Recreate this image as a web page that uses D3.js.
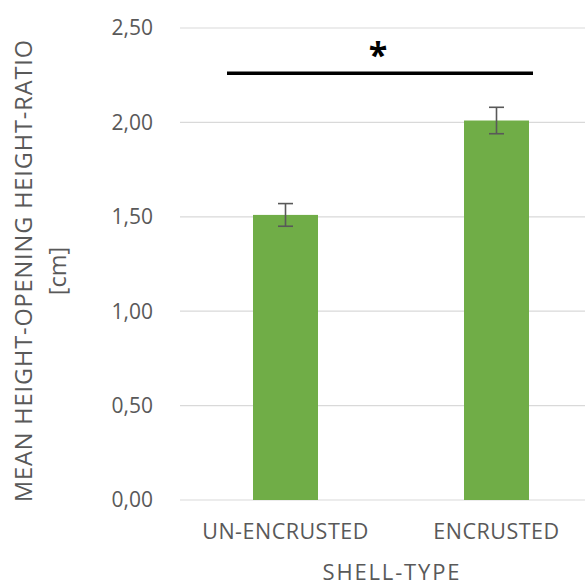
<!DOCTYPE html>
<html>
<head>
<meta charset="utf-8">
<script src="https://cdn.jsdelivr.net/npm/d3@7/dist/d3.min.js"></script>
<style>
  html, body { margin: 0; padding: 0; background: #fff; }
  svg { display: block; font-family: "Open Sans", sans-serif; }
</style>
</head>
<body>
<svg id="chart" width="585" height="587"></svg>
<script>
// Shell types and their mean height / opening-height ratio
const categories = ["UN-ENCRUSTED", "ENCRUSTED"];
const means = [1.51, 2.01];
const errors = [0.06, 0.07];
const yTicks = [0, 0.5, 1.0, 1.5, 2.0, 2.5];
const yTickLabels = ["0,00", "0,50", "1,00", "1,50", "2,00", "2,50"];
const significanceLevel = [2.26];
const significanceMark = ["*"];

const svg = d3.select("#chart");
const textColor = "#595959";
const gridColor = "#d9d9d9";
const barColor = "#70ad47";

const plot = { left: 180, right: 602, top: 28, bottom: 500 };

const y = d3.scaleLinear().domain([0, 2.5]).range([plot.bottom, plot.top]);
const x = d3.scaleBand().domain(categories).range([plot.left, plot.right]).padding(0);
const barW = x.bandwidth() * 0.308;
const cx = d => x(d) + x.bandwidth() / 2;

// horizontal gridlines
svg.append("g").selectAll("line").data(yTicks).join("line")
  .attr("x1", plot.left).attr("x2", plot.right)
  .attr("y1", d => y(d)).attr("y2", d => y(d))
  .attr("stroke", gridColor).attr("stroke-width", 1.2);

// y tick labels
const yAxis = d3.axisLeft(y).tickValues(yTicks)
  .tickFormat((d, i) => yTickLabels[i]).tickSize(0).tickPadding(0);
const gy = svg.append("g").attr("transform", "translate(153,0)").call(yAxis);
gy.select(".domain").remove();
gy.selectAll("text")
  .attr("fill", textColor).attr("font-size", 21).attr("font-family", "Open Sans, sans-serif")
  .attr("dy", "0.33em");

// bars
svg.append("g").selectAll("rect").data(categories).join("rect")
  .attr("x", d => cx(d) - barW / 2)
  .attr("width", barW)
  .attr("y", (d, i) => y(means[i]))
  .attr("height", (d, i) => y(0) - y(means[i]))
  .attr("fill", barColor);

// error bars
const eb = svg.append("g").attr("stroke", textColor).attr("stroke-width", 1.6);
categories.forEach((c, i) => {
  const hi = y(means[i] + errors[i]), lo = y(means[i] - errors[i]);
  eb.append("line").attr("x1", cx(c)).attr("x2", cx(c)).attr("y1", hi).attr("y2", lo);
  eb.append("line").attr("x1", cx(c) - 7.5).attr("x2", cx(c) + 7.5).attr("y1", hi).attr("y2", hi);
  eb.append("line").attr("x1", cx(c) - 7.5).attr("x2", cx(c) + 7.5).attr("y1", lo).attr("y2", lo);
});

// x category labels
const xAxis = d3.axisBottom(x).tickSize(0).tickPadding(0);
const gx = svg.append("g").attr("transform", "translate(0,539)").call(xAxis);
gx.select(".domain").remove();
gx.selectAll("text")
  .attr("fill", textColor).attr("font-size", 21.5).attr("font-family", "Open Sans, sans-serif")
  .attr("letter-spacing", 0.5)
  .attr("dy", 0).attr("y", 0);

// x axis title
svg.append("text")
  .attr("x", 391).attr("y", 580)
  .attr("text-anchor", "middle")
  .attr("fill", textColor).attr("font-size", 22)
  .attr("textLength", 137).attr("lengthAdjust", "spacing")
  .text("SHELL-TYPE");

// y axis title (two lines)
const yTitle = svg.append("text")
  .attr("transform", "translate(0,271) rotate(-90)")
  .attr("fill", textColor).attr("font-size", 23.5);
yTitle.append("tspan").attr("x", -231).attr("y", 32)
  .attr("textLength", 462).attr("lengthAdjust", "spacing")
  .text("MEAN HEIGHT-OPENING HEIGHT-RATIO");
yTitle.append("tspan").attr("x", 0).attr("y", 66).attr("text-anchor", "middle").text("[cm]");

// significance bracket between the two shell types
svg.append("line")
  .attr("x1", 227).attr("x2", 533)
  .attr("y1", y(significanceLevel[0])).attr("y2", y(significanceLevel[0]))
  .attr("stroke", "#000").attr("stroke-width", 3.5);
svg.append("text")
  .attr("x", (cx(categories[0]) + cx(categories[1])) / 2 - 13)
  .attr("y", y(significanceLevel[0]) - 6)
  .attr("text-anchor", "middle")
  .attr("font-size", 34).attr("font-weight", "bold").attr("fill", "#000")
  .text(significanceMark[0]);
</script>
</body>
</html>
